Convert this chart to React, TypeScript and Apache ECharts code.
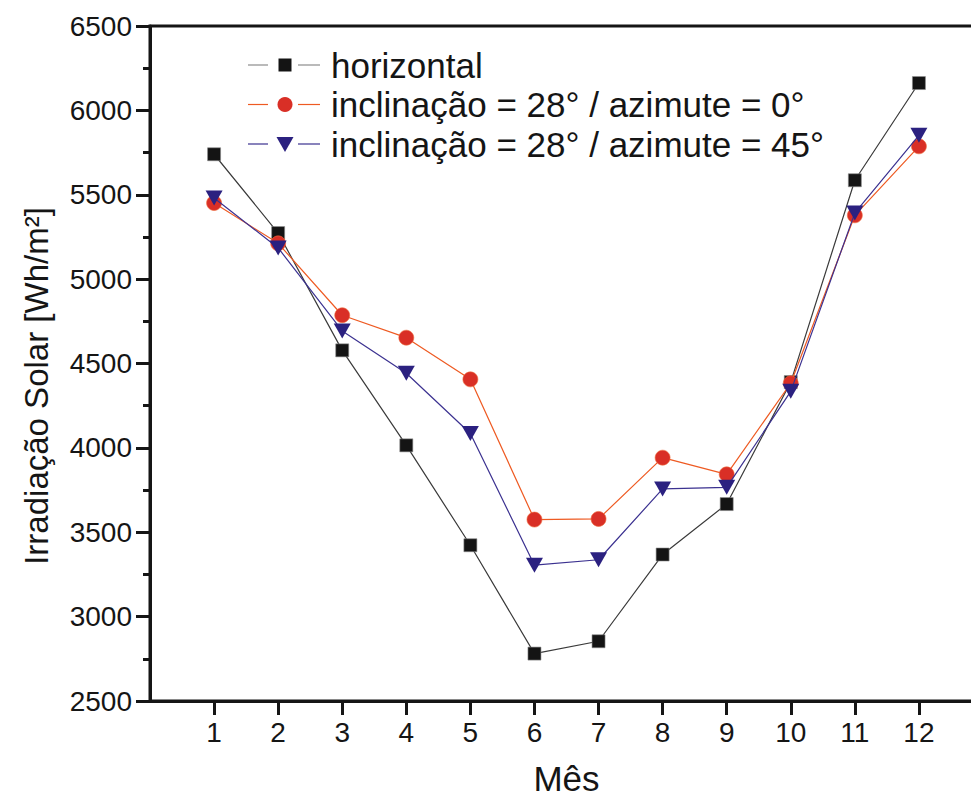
import React, { useEffect, useRef } from "react";
import * as echarts from "echarts";

const months = [1, 2, 3, 4, 5, 6, 7, 8, 9, 10, 11, 12];
const horizontal = [5740, 5273, 4578, 4015, 3423, 2781, 2854, 3368, 3667, 4390, 5586, 6162];
const incl0 = [5451, 5212, 4786, 4653, 4406, 3575, 3579, 3942, 3843, 4383, 5378, 5787];
const incl45 = [5481, 5185, 4693, 4442, 4085, 3305, 3337, 3757, 3766, 4335, 5392, 5852];
const seriesNames = [
  "horizontal",
  "inclinação = 28° / azimute = 0°",
  "inclinação = 28° / azimute = 45°",
];
const yTicks = [2500, 3000, 3500, 4000, 4500, 5000, 5500, 6000, 6500];

const FONT = "'Liberation Sans', Arial, Helvetica, sans-serif";
const INK = "#151515";

const SQ_FILL = "#141414";
const SQ_LINE = "#3a3a3a";
const CI_FILL = "#d92f26";
const CI_LINE = "#ee5a22";
const TR_FILL = "#2b2180";
const TR_LINE = "#3b3190";

function legendGraphic() {
  const rowY = [65, 104.5, 144];
  const lineColors = ["#8c8c8c", CI_LINE, TR_LINE];
  const els: any[] = [];
  rowY.forEach((y, i) => {
    els.push({
      type: "line",
      shape: { x1: 248, y1: y, x2: 268, y2: y },
      style: { stroke: lineColors[i], lineWidth: 1.2 },
    });
    els.push({
      type: "line",
      shape: { x1: 298, y1: y, x2: 320, y2: y },
      style: { stroke: lineColors[i], lineWidth: 1.2 },
    });
    if (i === 0) {
      els.push({
        type: "rect",
        shape: { x: 278.5, y: y - 6.5, width: 13, height: 13 },
        style: { fill: SQ_FILL },
      });
    } else if (i === 1) {
      els.push({
        type: "circle",
        shape: { cx: 285, cy: y, r: 7.5 },
        style: { fill: CI_FILL },
      });
    } else {
      els.push({
        type: "polygon",
        shape: { points: [[276.5, y - 7], [293.5, y - 7], [285, y + 8]] },
        style: { fill: TR_FILL },
      });
    }
    els.push({
      type: "text",
      x: 331,
      y: y,
      style: {
        text: seriesNames[i],
        fontFamily: FONT,
        fontSize: 35,
        fill: INK,
        align: "left",
        verticalAlign: "middle",
      },
    });
  });
  return els;
}

export default function App() {
  const ref = useRef<HTMLDivElement>(null);
  useEffect(() => {
    document.body.style.margin = "0";
    const chart = echarts.init(ref.current!, null, { renderer: "svg" });
    const pairs = (vals: number[]) => months.map((m, i) => [m, vals[i]]);
    chart.setOption({
      animation: false,
      backgroundColor: "#ffffff",
      grid: {
        left: 150,
        top: 26,
        right: -12,
        height: 675,
        outerBoundsMode: "none",
        containLabel: false,
        show: true,
        borderWidth: 3,
        borderColor: INK,
        backgroundColor: "transparent",
      },
      xAxis: {
        type: "value",
        min: 0,
        max: 13,
        interval: 1,
        name: "Mês",
        nameLocation: "middle",
        nameGap: 63,
        nameTextStyle: { fontFamily: FONT, fontSize: 35, color: INK, lineHeight: 28 },
        axisLine: { show: true, lineStyle: { color: INK, width: 3 } },
        axisTick: { show: true, length: 14, lineStyle: { color: INK, width: 3 }, customValues: months },
        axisLabel: {
          fontFamily: FONT,
          fontSize: 28,
          color: INK,
          margin: 17,
          customValues: months,
        },
        splitLine: { show: false },
      },
      yAxis: {
        type: "value",
        min: yTicks[0],
        max: yTicks[yTicks.length - 1],
        interval: 500,
        axisLine: { show: true, lineStyle: { color: INK, width: 3 } },
        axisTick: { show: true, length: 14, lineStyle: { color: INK, width: 3 } },
        minorTick: { show: true, splitNumber: 2, length: 7, lineStyle: { color: INK, width: 3 } },
        axisLabel: {
          fontFamily: FONT,
          fontSize: 28,
          color: INK,
          margin: 18,
          formatter: (v: number) => String(v),
        },
        splitLine: { show: false },
      },
      graphic: [
        {
          type: "text",
          x: 36,
          y: 386,
          rotation: Math.PI / 2,
          style: {
            text: "Irradiação Solar [Wh/m²]",
            fontFamily: FONT,
            fontSize: 33,
            fill: INK,
            align: "center",
            verticalAlign: "middle",
          },
        },
        { type: "group", children: legendGraphic() },
      ],
      series: [
        {
          name: seriesNames[0],
          type: "line",
          data: pairs(horizontal),
          symbol: "rect",
          symbolSize: 13,
          itemStyle: { color: SQ_FILL, borderColor: "#8a8a8a", borderWidth: 0.6 },
          lineStyle: { color: SQ_LINE, width: 1.2 },
          z: 2,
        },
        {
          name: seriesNames[1],
          type: "line",
          data: pairs(incl0),
          symbol: "circle",
          symbolSize: 15,
          itemStyle: { color: CI_FILL, borderColor: "#ef6a3a", borderWidth: 0.6 },
          lineStyle: { color: CI_LINE, width: 1.2 },
          z: 3,
        },
        {
          name: seriesNames[2],
          type: "line",
          data: pairs(incl45),
          symbol: "triangle",
          symbolRotate: 180,
          symbolSize: [17, 15],
          itemStyle: { color: TR_FILL },
          lineStyle: { color: TR_LINE, width: 1.2 },
          z: 4,
        },
      ],
    });
    return () => chart.dispose();
  }, []);
  return (
    <div
      ref={ref}
      style={{ position: "fixed", left: 0, top: 0, width: 971, height: 798, background: "#fff" }}
    />
  );
}
